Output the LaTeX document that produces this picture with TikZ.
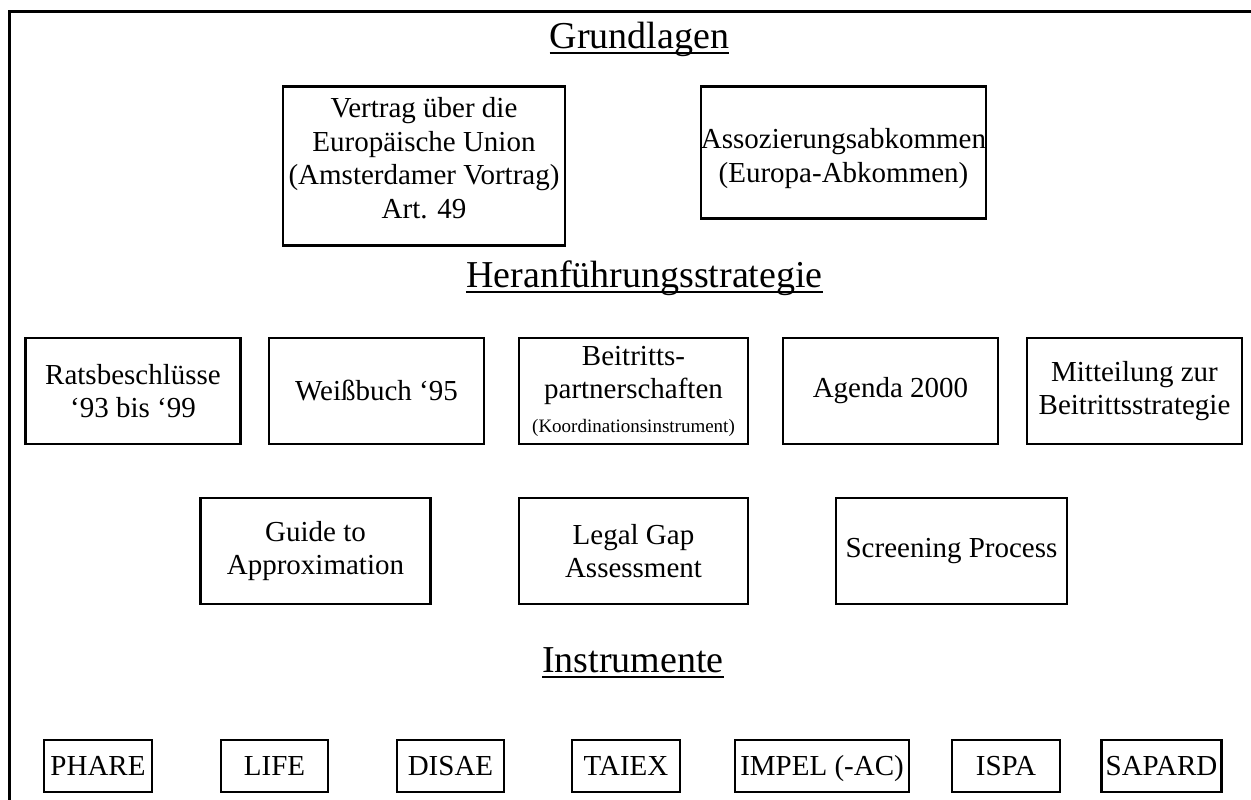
\documentclass[tikz,border=0pt]{standalone}
\usepackage{fontspec}
\setmainfont{Liberation Serif}

\begin{document}
\begin{tikzpicture}[
    x=1pt, y=-1pt,
    frame/.style={line width=2.4pt},
    title/.style={anchor=base,inner sep=0pt,font=\fontsize{38}{45}\selectfont},
    uline/.style={line width=2pt},
    box/.style={draw,line width=2.6pt,inner sep=0pt,align=center,minimum height=106pt,font=\fontsize{29}{33.5}\selectfont},
    topbox/.style={box,anchor=north,minimum height=0pt},
    instbox/.style={box,minimum height=52pt,text height=21pt,text depth=2pt}
]
\useasboundingbox (0,0) rectangle (1251,800);
\draw[frame] (1251,11.7) -- (9.6,11.7) -- (9.6,800);

% Grundlagen
\node[title] (t1) at (639.5,49) {Grundlagen};
\node[topbox,minimum width=282pt,text height=132pt,text depth=27pt] (euv) at (424,85)
    {Vertrag über die\\Europäische Union\\(Amsterdamer Vortrag)\\Art. 49};
\node[topbox,minimum width=283pt,text height=96pt,text depth=36pt] (assoz) at (843.5,85)
    {Assozierungsabkommen\\(Europa-Abkommen)};

% Heranfuehrungsstrategie
\node[title] (t2) at (644.5,287) {Heranführungsstrategie};
\node[box,minimum width=215pt] (rat) at (133,391) {Ratsbeschlüsse\\‘93 bis ‘99};
\node[box,minimum width=215pt] (weiss) at (376.5,391) {Weißbuch ‘95};
\node[box,minimum width=229pt] (partner) at (633.5,391)
    {Beitritts-\\partnerschaften\\{\fontsize{19}{22}\selectfont(Koordinationsinstrument)}};
\node[box,minimum width=215pt] (agenda) at (890.5,391) {Agenda 2000};
\node[box,minimum width=215pt] (mitt) at (1134.5,391) {Mitteilung zur\\Beitrittsstrategie};

\node[box,minimum width=230pt] (guide) at (315.5,551) {Guide to\\Approximation};
\node[box,minimum width=229pt] (gap) at (633.5,551) {Legal Gap\\Assessment};
\node[box,minimum width=231pt] (screen) at (951.5,551) {Screening Process};

% Instrumente
\node[title] (t3) at (633,672) {Instrumente};
\foreach \txt/\x/\w [count=\i] in {PHARE/98/108,LIFE/274.5/107,DISAE/450.5/107,
    TAIEX/626/108,IMPEL (-AC)/822/174,ISPA/1006/108,SAPARD/1161.5/120}
    \node[instbox,minimum width=\w pt] (inst\i) at (\x,766) {\txt};

% underlines of the titles
\foreach \t in {t1,t2,t3}
    \draw[uline] ([yshift=-4.5pt]\t.base west) -- ([yshift=-4.5pt]\t.base east);

\end{tikzpicture}
\end{document}
